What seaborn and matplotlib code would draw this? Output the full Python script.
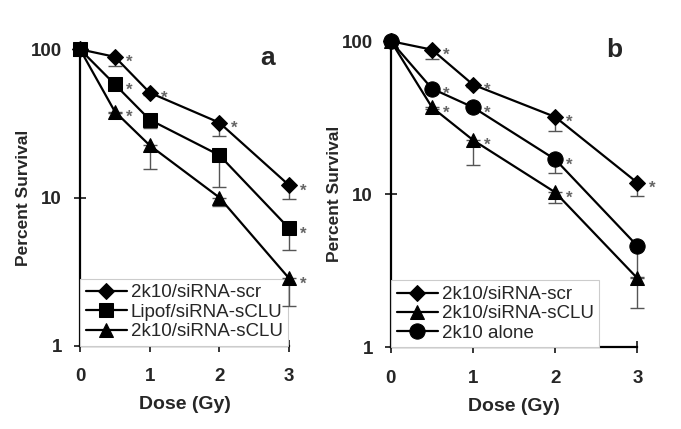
import pandas as pd
import numpy as np
import matplotlib
matplotlib.use("Agg")
import matplotlib.pyplot as plt
import seaborn as sns

# dose points (Gy)
dose = [0, 0.5, 1, 2, 3]

# panel a
a_scr = [100, 89, 51, 32, 12.1]
a_scr_low = [100, 77, 49, 26, 9.8]
a_scr_star = [False, True, True, True, True]

a_lipof = [100, 58, 33.5, 19.3, 6.2]
a_lipof_low = [100, 56, 29.5, 11.7, 4.4]
a_lipof_star = [False, True, False, False, True]

a_sclu = [100, 38, 22.5, 10, 2.85]
a_sclu_low = [100, 37, 15.5, 8.8, 1.85]
a_sclu_star = [False, True, False, False, True]

# panel b
b_scr = [100, 88, 52, 32, 11.9]
b_scr_low = [100, 76, 50, 26, 9.7]
b_scr_star = [False, True, True, True, True]

b_sclu = [100, 37, 22.6, 10.3, 2.83]
b_sclu_low = [100, 36, 15.5, 8.8, 1.8]
b_sclu_star = [False, True, True, True, False]

b_alone = [100, 49, 37, 16.9, 4.6]
b_alone_low = [100, 48, 36, 13.7, 2.9]
b_alone_star = [False, True, True, True, False]

labels_a = ["2k10/siRNA-scr", "Lipof/siRNA-sCLU", "2k10/siRNA-sCLU"]
labels_b = ["2k10/siRNA-scr", "2k10/siRNA-sCLU", "2k10 alone"]

markers = {"2k10/siRNA-scr": "D", "Lipof/siRNA-sCLU": "s",
           "2k10/siRNA-sCLU": "^", "2k10 alone": "o"}
msize = {"D": 8.5, "s": 10.5, "^": 10.5, "o": 11}

sns.set_theme(style="ticks")
plt.rcParams["font.family"] = ["Liberation Sans", "DejaVu Sans"]


def build(labels, vals, lows, stars):
    rows = []
    for lab, v, lo, st in zip(labels, vals, lows, stars):
        for d, y, l, s in zip(dose, v, lo, st):
            rows.append({"dose": d, "survival": y, "low": l, "star": s, "group": lab})
    return pd.DataFrame(rows)


def draw_panel(ax, df, labels, letter, letter_x):
    for lab in labels:
        sub = df[df["group"] == lab]
        ax.errorbar(sub["dose"], sub["survival"],
                    yerr=[sub["survival"] - sub["low"], np.zeros(len(sub))],
                    fmt="none", ecolor="#555555", elinewidth=1, capsize=5,
                    capthick=1, clip_on=False, zorder=6)
    sns.lineplot(data=df, x="dose", y="survival", hue="group", style="group",
                 hue_order=labels, style_order=labels,
                 palette=["black"] * len(labels), markers=markers, dashes=False,
                 linewidth=1.6, ax=ax, zorder=7, clip_on=False, legend=True)
    for line in ax.lines:
        m = line.get_marker()
        if m in msize:
            line.set_markersize(msize[m])
            line.set_markeredgecolor("black")
    for _, r in df[df["star"]].iterrows():
        ax.annotate("*", (r["dose"], r["survival"]), xytext=(8, -4),
                    textcoords="offset points", color="#666666", fontsize=12,
                    fontweight="bold", ha="left", va="center", zorder=8)
    ax.set_yscale("log")
    ax.set_ylim(1, 100)
    ax.set_xlim(0, 3)
    ax.set_xticks([0, 1, 2, 3])
    ax.set_yticks([1, 10, 100])
    ax.set_yticklabels(["1", "10", "100"])
    ax.yaxis.set_minor_locator(matplotlib.ticker.NullLocator())
    ax.tick_params(axis="both", direction="inout", length=8, width=1.3,
                   labelsize=13.5, pad=9)
    ax.tick_params(axis="x", pad=12)
    for t in ax.get_xticklabels() + ax.get_yticklabels():
        t.set_fontweight("bold")
    ax.set_xlabel("Dose (Gy)", fontsize=14, fontweight="bold", labelpad=8)
    ax.set_ylabel("Percent Survival", fontsize=12.5, fontweight="bold", labelpad=0)
    sns.despine(ax=ax)
    for sp in ["left", "bottom"]:
        ax.spines[sp].set_linewidth(1.6)
        ax.spines[sp].set_color("black")
    ax.text(letter_x, 1.01, letter, transform=ax.transAxes, fontsize=19,
            fontweight="bold", ha="left", va="top")
    leg = ax.legend(loc="lower left", bbox_to_anchor=(0, 0), borderaxespad=0,
                    fontsize=13.5, handlelength=2.2, handletextpad=0.2,
                    labelspacing=0.12, fancybox=False, framealpha=1,
                    borderpad=0.3)
    leg.set_zorder(4)
    leg.get_frame().set_edgecolor("#cccccc")
    leg.get_frame().set_linewidth(0.8)
    for h in leg.legend_handles:
        m = h.get_marker()
        if m in msize:
            h.set_markersize(msize[m])


fig = plt.figure(figsize=(6.81, 4.29), dpi=100)
ax_a = fig.add_axes([0.1175, 0.194, 0.307, 0.691])
ax_b = fig.add_axes([0.574, 0.19, 0.362, 0.714])

df_a = build(labels_a, [a_scr, a_lipof, a_sclu],
             [a_scr_low, a_lipof_low, a_sclu_low],
             [a_scr_star, a_lipof_star, a_sclu_star])
df_b = build(labels_b, [b_scr, b_sclu, b_alone],
             [b_scr_low, b_sclu_low, b_alone_low],
             [b_scr_star, b_sclu_star, b_alone_star])

draw_panel(ax_a, df_a, labels_a, "a", 0.86)
draw_panel(ax_b, df_b, labels_b, "b", 0.875)

fig.savefig("out.png", dpi=100)
